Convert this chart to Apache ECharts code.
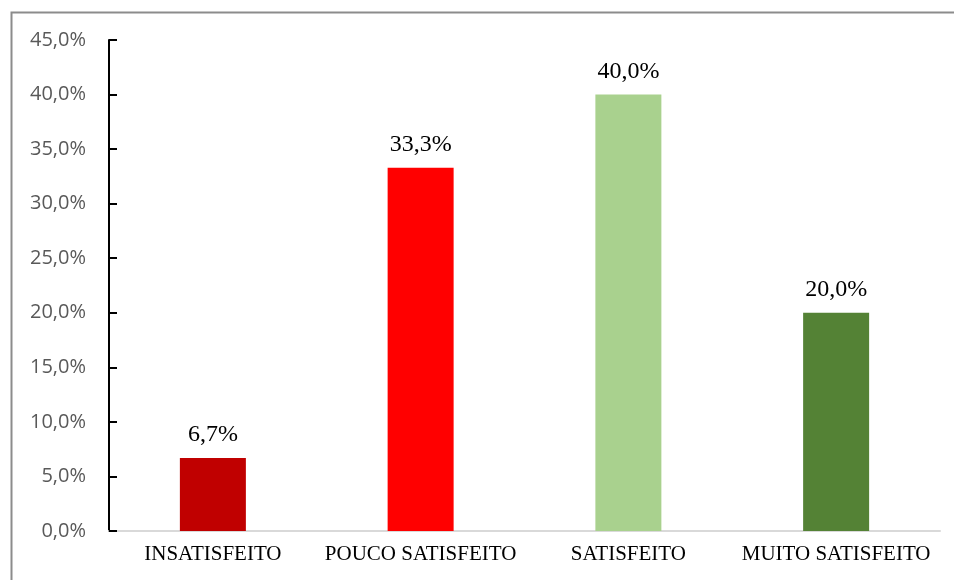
<!DOCTYPE html>
<html>
<head>
<meta charset="utf-8">
<script src="https://cdn.jsdelivr.net/npm/echarts@6/dist/echarts.min.js"></script>
<style>html,body{margin:0;padding:0;background:#fff;}#c{width:954px;height:580px;}</style>
</head>
<body>
<div id="c"></div>
<script>
const categories = ['INSATISFEITO', 'POUCO SATISFEITO', 'SATISFEITO', 'MUITO SATISFEITO'];
const values = [6.7, 33.3, 40.0, 20.0];
const barColors = ['#C00000', '#FF0000', '#A9D18E', '#548235'];
const yMin = 0, yMax = 45, yStep = 5;

const fmt = v => v.toFixed(1).replace('.', ',') + '%';
const chart = echarts.init(document.getElementById('c'), null, {renderer: 'canvas'});
chart.setOption({
  animation: false,
  graphic: [{
    type: 'rect', left: 9, top: 10, shape: {x: 0, y: 0, width: 960, height: 590},
    style: {fill: 'none', stroke: '#8c8c8c', lineWidth: 2}, silent: true
  }],
  grid: {left: 109, right: 14, top: 40, bottom: 49, containLabel: false},
  xAxis: {
    type: 'category', data: categories,
    axisLine: {lineStyle: {color: '#d9d9d9', width: 2}},
    axisTick: {show: false},
    axisLabel: {color: '#000', fontFamily: 'Liberation Serif', fontSize: 21, margin: 13,
      interval: 0, hideOverlap: false}
  },
  yAxis: {
    type: 'value', min: yMin, max: yMax, interval: yStep,
    splitLine: {show: false},
    axisLine: {show: true, lineStyle: {color: '#000', width: 2}},
    axisTick: {show: true, inside: true, length: 8, lineStyle: {color: '#000', width: 2}},
    axisLabel: {color: '#595959', fontFamily: 'Open Sans', fontSize: 20, margin: 23, formatter: fmt}
  },
  series: [{
    type: 'bar', barWidth: 66,
    data: values.map((v, i) => ({value: v, itemStyle: {color: barColors[i]}})),
    label: {show: true, position: 'top', distance: 11, color: '#000',
      fontFamily: 'Liberation Serif', fontSize: 24, formatter: p => fmt(p.value)}
  }]
});
</script>
</body>
</html>
